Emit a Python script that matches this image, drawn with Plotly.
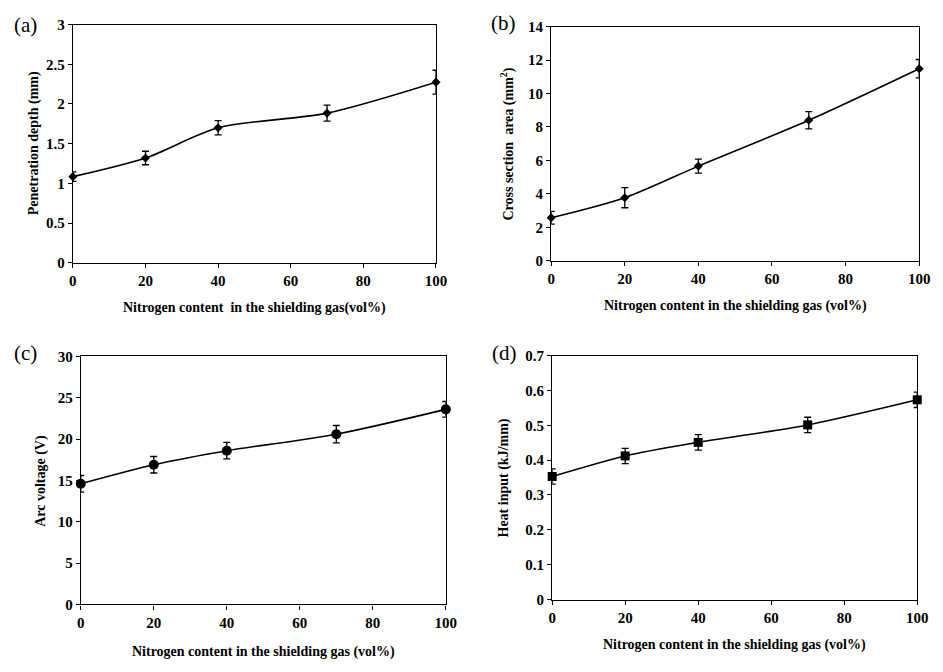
import plotly.graph_objects as go

# Nitrogen content in the shielding gas (vol%)
nitrogen = [0, 20, 40, 70, 100]
x_ticks = [0, 20, 40, 60, 80, 100]

# (a) penetration depth, mm
depth = [1.085, 1.32, 1.70, 1.885, 2.275]
depth_err = [0.06, 0.085, 0.09, 0.10, 0.15]
depth_ticks = [0, 0.5, 1, 1.5, 2, 2.5, 3]

# (b) cross section area, mm^2
area = [2.57, 3.77, 5.66, 8.40, 11.48]
area_err = [0.38, 0.60, 0.42, 0.52, 0.55]
area_ticks = [0, 2, 4, 6, 8, 10, 12, 14]

# (c) arc voltage, V
voltage = [14.6, 16.9, 18.6, 20.6, 23.6]
voltage_err = [1.0, 1.0, 1.0, 1.05, 0.95]
voltage_ticks = [0, 5, 10, 15, 20, 25, 30]

# (d) heat input, kJ/mm
heat = [0.353, 0.412, 0.451, 0.501, 0.573]
heat_err = [0.022, 0.022, 0.022, 0.022, 0.022]
heat_ticks = [0, 0.1, 0.2, 0.3, 0.4, 0.5, 0.6, 0.7]

FONT = "Liberation Serif"

panels = [
    dict(y=depth, err=depth_err, sym="diamond", size=7, yticks=depth_ticks,
         dom_x=[0.0742, 0.4655], dom_y=[0.6116, 0.9747],
         ytitle="Penetration depth (mm)",
         xtitle="Nitrogen content  in the shielding gas(vol%)",
         label="(a)", lab_xy=(22, 17), xt_y=307, yt_x=30),
    dict(y=area, err=area_err, sym="diamond", size=7, yticks=area_ticks,
         dom_x=[0.5896, 0.9862], dom_y=[0.6146, 0.9717],
         ytitle="Cross section  area (mm<sup>2</sup>)",
         xtitle="Nitrogen content in the shielding gas (vol%)",
         label="(b)", lab_xy=(508, 15), xt_y=305, yt_x=512),
    dict(y=voltage, err=voltage_err, sym="circle", size=10, yticks=voltage_ticks,
         dom_x=[0.0827, 0.4761], dom_y=[0.0908, 0.4688],
         ytitle="Arc voltage (V)",
         xtitle="Nitrogen content in the shielding gas (vol%)",
         label="(c)", lab_xy=(22, 353), xt_y=660, yt_x=38),
    dict(y=heat, err=heat_err, sym="square", size=9, yticks=heat_ticks,
         dom_x=[0.5907, 0.9841], dom_y=[0.0982, 0.4702],
         ytitle="Heat input (kJ/mm)",
         xtitle="Nitrogen content in the shielding gas (vol%)",
         label="(d)", lab_xy=(509, 353), xt_y=653, yt_x=508),
]


def bold_labels(vals):
    return [f"<b>{v:g}</b>" for v in vals]


W, H = 943, 672
fig = go.Figure()
annotations = []

for i, p in enumerate(panels, start=1):
    xa = "x" if i == 1 else f"x{i}"
    ya = "y" if i == 1 else f"y{i}"
    fig.add_trace(go.Scatter(
        x=nitrogen, y=p["y"], xaxis=xa, yaxis=ya,
        mode="lines+markers",
        line=dict(color="black", width=1.6, shape="spline", smoothing=0.8),
        marker=dict(symbol=p["sym"], size=p["size"], color="black"),
        error_y=dict(type="data", array=p["err"], color="black",
                     thickness=1.3, width=3.5),
        cliponaxis=False, showlegend=False,
    ))
    axis_common = dict(
        showgrid=False, zeroline=False, showline=True, linecolor="black",
        linewidth=1.2, mirror=True, ticks="outside", ticklen=4,
        tickcolor="black",
        tickfont=dict(family=FONT, size=15, color="black"),
    )
    yt = p["yticks"]
    fig.update_layout(**{
        ("xaxis" if i == 1 else f"xaxis{i}"): dict(
            domain=p["dom_x"], anchor=ya, range=[0, 100],
            tickmode="array", tickvals=x_ticks, ticktext=bold_labels(x_ticks),
            **axis_common),
        ("yaxis" if i == 1 else f"yaxis{i}"): dict(
            domain=p["dom_y"], anchor=xa, range=[yt[0], yt[-1]],
            tickmode="array", tickvals=yt, ticktext=bold_labels(yt),
            **axis_common),
    })
    x0, x1 = p["dom_x"]
    y0, y1 = p["dom_y"]
    # x-axis title
    annotations.append(dict(
        text=f"<b>{p['xtitle']}</b>", xref="paper", yref="paper",
        x=(x0 + x1) / 2, y=1 - p["xt_y"] / H, showarrow=False,
        font=dict(family=FONT, size=14, color="black"),
        xanchor="center", yanchor="middle"))
    # y-axis title
    annotations.append(dict(
        text=f"<b>{p['ytitle']}</b>", xref="paper", yref="paper",
        x=p["yt_x"] / W, y=(y0 + y1) / 2, showarrow=False, textangle=-90,
        font=dict(family=FONT, size=14, color="black"),
        xanchor="center", yanchor="middle"))
    # panel label
    annotations.append(dict(
        text=p["label"], xref="paper", yref="paper",
        x=p["lab_xy"][0] / W, y=1 - p["lab_xy"][1] / H, showarrow=False,
        font=dict(family=FONT, size=21, color="black"),
        xanchor="center", yanchor="middle"))

fig.update_layout(
    width=W, height=H, margin=dict(l=0, r=0, t=0, b=0),
    paper_bgcolor="white", plot_bgcolor="white",
    annotations=annotations,
)

fig.write_html("out.html")
